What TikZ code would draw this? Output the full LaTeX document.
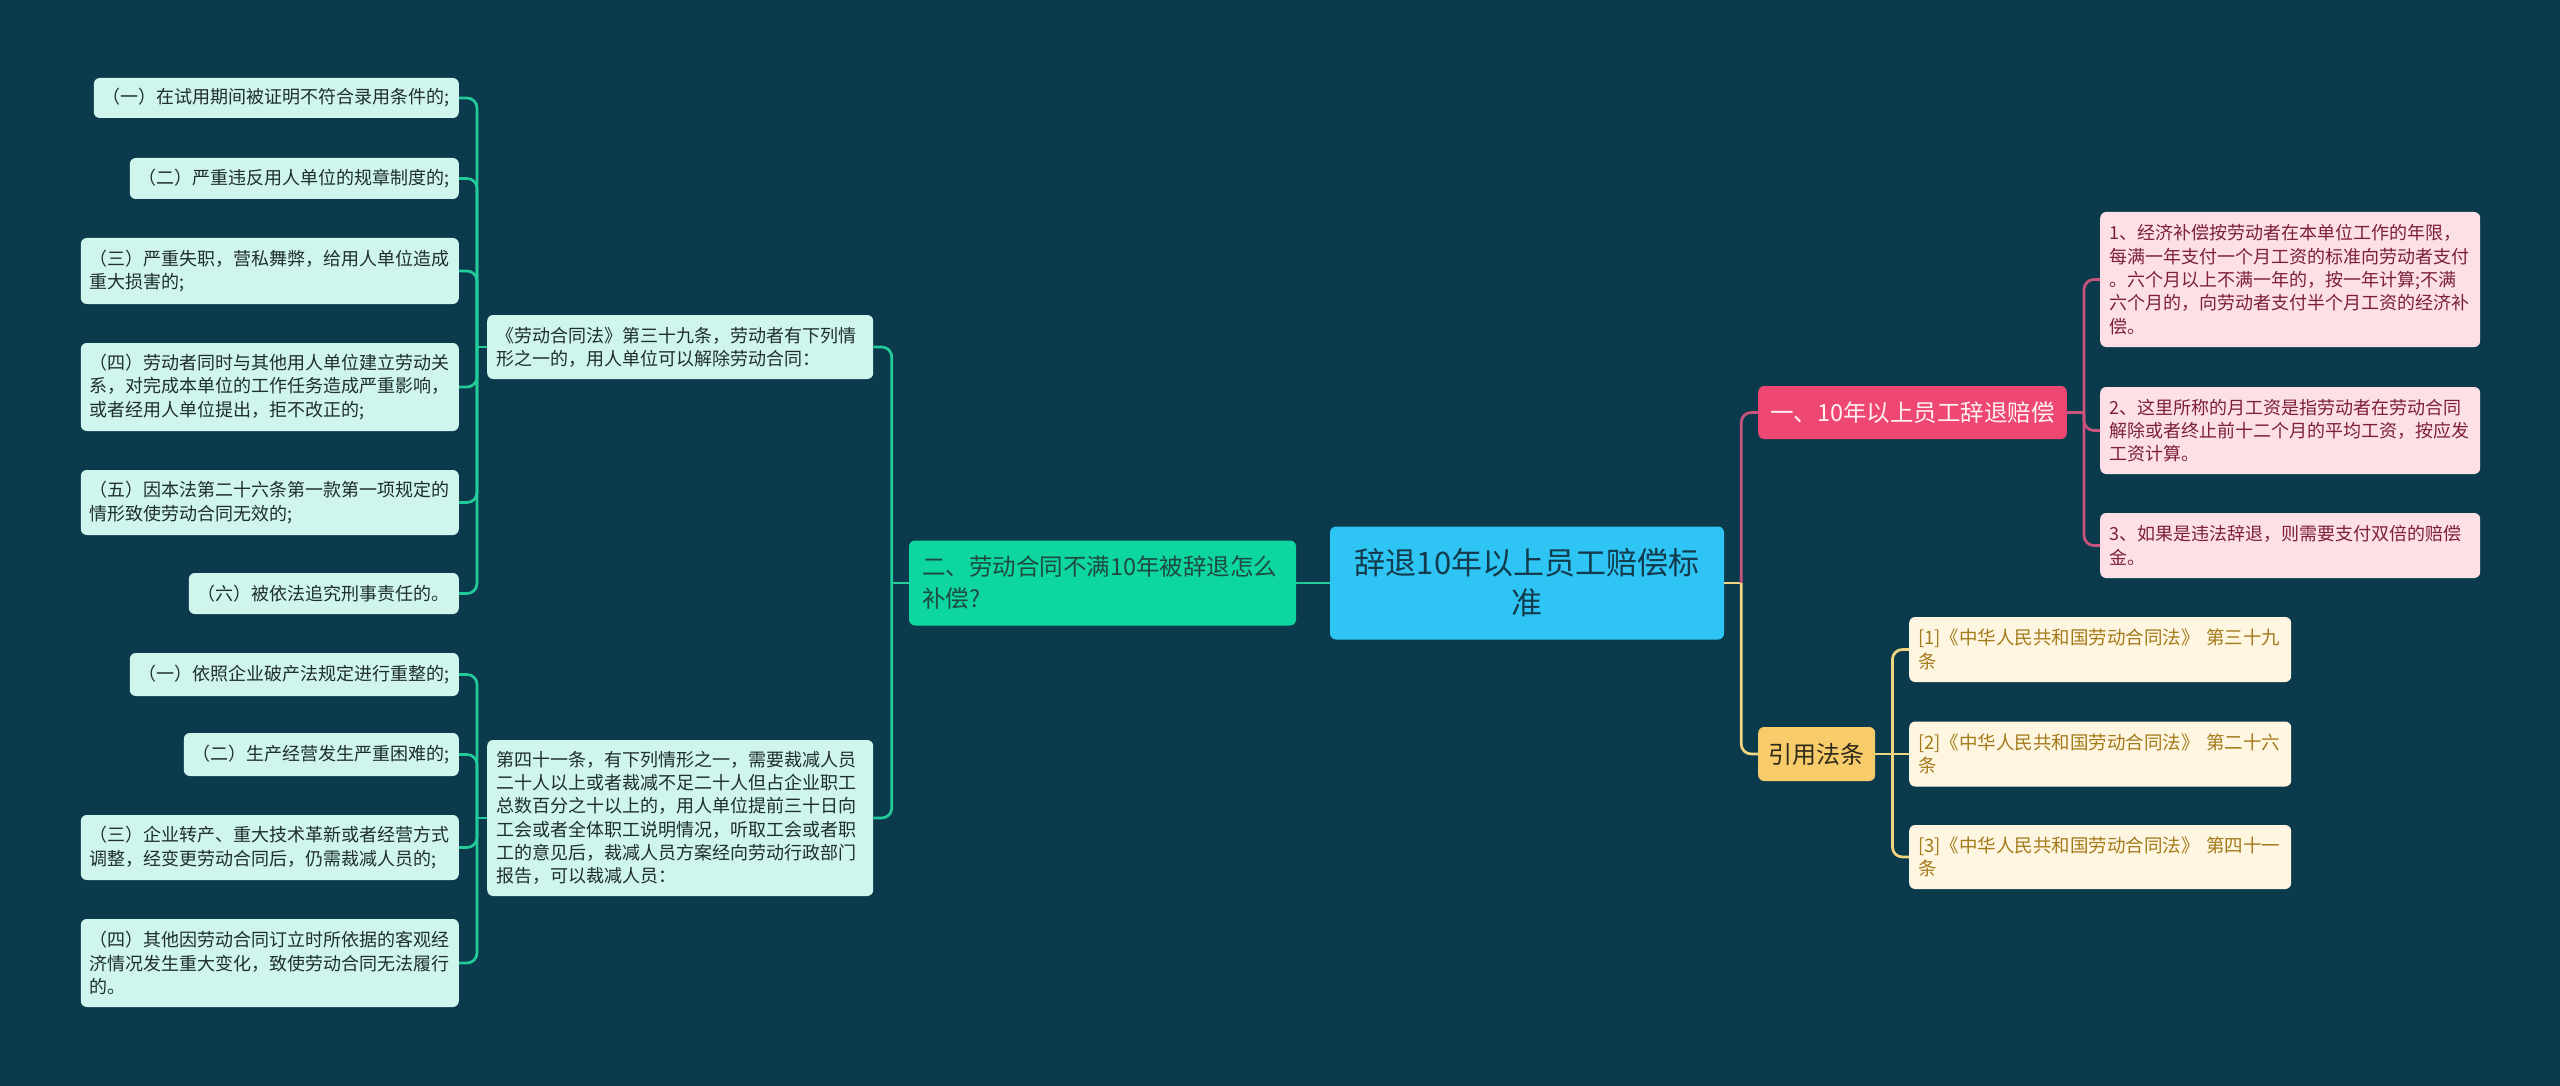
\documentclass[tikz,border=0pt]{standalone}
\usepackage{fontspec}
\setmainfont{Noto Sans CJK SC}
\usetikzlibrary{positioning}

\definecolor{bgcol}{HTML}{0A3A4C}
\definecolor{rootcol}{HTML}{2EC5F4}
\definecolor{roottxt}{HTML}{123B4D}
\definecolor{greencol}{HTML}{0DD6A0}
\definecolor{greentxt}{HTML}{1E4A40}
\definecolor{mintcol}{HTML}{CFF5EC}
\definecolor{minttxt}{HTML}{1F2E2E}
\definecolor{glinecol}{HTML}{22CC98}
\definecolor{pinkcol}{HTML}{EE4771}
\definecolor{pinktxt}{HTML}{FFF0F3}
\definecolor{rosecol}{HTML}{FDE0E6}
\definecolor{rosetxt}{HTML}{7C2038}
\definecolor{plinecol}{HTML}{C9557C}
\definecolor{goldcol}{HTML}{F8CC6B}
\definecolor{goldtxt}{HTML}{2E2A1A}
\definecolor{creamcol}{HTML}{FFF6E1}
\definecolor{creamtxt}{HTML}{A37A1A}
\definecolor{ylinecol}{HTML}{F0D580}

\begin{document}
\begin{tikzpicture}[x=1pt, y=-1pt,
  card/.style={rounded corners=6pt, inner xsep=9pt, inner ysep=6pt, align=left},
  mintbox/.style={card, fill=mintcol, text=minttxt, font=\fontsize{18pt}{23.3pt}\selectfont},
  lawbox/.style={mintbox, text width=368pt},
  topicbox/.style={card, fill=greencol, text=greentxt, inner xsep=13pt, text width=361pt, font=\fontsize{23.5pt}{32pt}\selectfont},
  rootbox/.style={card, fill=rootcol, text=roottxt, inner xsep=12pt, text width=370pt, align=center, font=\fontsize{31pt}{40pt}\selectfont},
  pinkbox/.style={card, fill=pinkcol, text=pinktxt, inner xsep=12pt, font=\fontsize{23.5pt}{30pt}\selectfont},
  rosebox/.style={card, fill=rosecol, text=rosetxt, text width=362pt, font=\fontsize{18pt}{23.3pt}\selectfont},
  goldbox/.style={card, fill=goldcol, text=goldtxt, inner xsep=10.5pt, font=\fontsize{24pt}{30pt}\selectfont},
  creambox/.style={card, fill=creamcol, text=creamtxt, text width=364pt, font=\fontsize{18.5pt}{23.3pt}\selectfont},
  gline/.style={draw=glinecol, line width=2.7pt, rounded corners=10pt},
  pline/.style={draw=plinecol, line width=2.7pt, rounded corners=10pt},
  yline/.style={draw=ylinecol, line width=2.7pt, rounded corners=10pt}
]
\fill[bgcol] (0,0) rectangle (2560,1086);
\useasboundingbox (0,0) rectangle (2560,1086);

% centre and main branches
\node[rootbox, minimum height=113pt] (root) at (1527,583) {辞退10年以上员工赔偿标\\准};
\node[topicbox, minimum height=85pt] (sec2) at (1102.5,583) {二、劳动合同不满10年被辞退怎么\\补偿?};
\node[pinkbox, anchor=west, minimum height=53pt] (sec1) at (1758,412.5) {一、10年以上员工辞退赔偿};
\node[goldbox, anchor=west, minimum height=54pt] (cite) at (1758,754) {引用法条};

% left side
\node[lawbox, anchor=west, minimum height=64pt] (lawA) at (487,347) {《劳动合同法》第三十九条，劳动者有下列情\\形之一的，用人单位可以解除劳动合同：};
\node[lawbox, anchor=west, minimum height=156pt] (lawB) at (487,818) {第四十一条，有下列情形之一，需要裁减人员\\二十人以上或者裁减不足二十人但占企业职工\\总数百分之十以上的，用人单位提前三十日向\\工会或者全体职工说明情况，听取工会或者职\\工的意见后，裁减人员方案经向劳动行政部门\\报告，可以裁减人员：};

\node[mintbox, anchor=east, minimum height=40pt] (a1) at (459,98) {（一）在试用期间被证明不符合录用条件的;};
\node[mintbox, anchor=east, minimum height=41pt] (a2) at (459,178.5) {（二）严重违反用人单位的规章制度的;};
\node[mintbox, anchor=east, minimum height=66pt] (a3) at (459,271) {（三）严重失职，营私舞弊，给用人单位造成\\重大损害的;};
\node[mintbox, anchor=east, minimum height=88pt] (a4) at (459,387) {（四）劳动者同时与其他用人单位建立劳动关\\系，对完成本单位的工作任务造成严重影响，\\或者经用人单位提出，拒不改正的;};
\node[mintbox, anchor=east, minimum height=65pt] (a5) at (459,502.5) {（五）因本法第二十六条第一款第一项规定的\\情形致使劳动合同无效的;};
\node[mintbox, anchor=east, minimum height=41pt] (a6) at (459,593.5) {（六）被依法追究刑事责任的。};

\node[mintbox, anchor=east, minimum height=43pt] (b1) at (459,674.5) {（一）依照企业破产法规定进行重整的;};
\node[mintbox, anchor=east, minimum height=43pt] (b2) at (459,754.5) {（二）生产经营发生严重困难的;};
\node[mintbox, anchor=east, minimum height=65pt] (b3) at (459,847.5) {（三）企业转产、重大技术革新或者经营方式\\调整，经变更劳动合同后，仍需裁减人员的;};
\node[mintbox, anchor=east, minimum height=88pt] (b4) at (459,963) {（四）其他因劳动合同订立时所依据的客观经\\济情况发生重大变化，致使劳动合同无法履行\\的。};

% right side
\node[rosebox, anchor=west, minimum height=135pt] (p1) at (2100,279.5) {1、经济补偿按劳动者在本单位工作的年限，\\每满一年支付一个月工资的标准向劳动者支付\\。六个月以上不满一年的，按一年计算;不满\\六个月的，向劳动者支付半个月工资的经济补\\偿。};
\node[rosebox, anchor=west, minimum height=87pt] (p2) at (2100,430.5) {2、这里所称的月工资是指劳动者在劳动合同\\解除或者终止前十二个月的平均工资，按应发\\工资计算。};
\node[rosebox, anchor=west, minimum height=65pt] (p3) at (2100,545.5) {3、如果是违法辞退，则需要支付双倍的赔偿\\金。};

\node[creambox, anchor=west, minimum height=65pt] (r1) at (1909,649.5) {[1]《中华人民共和国劳动合同法》~第三十九\\条};
\node[creambox, anchor=west, minimum height=65pt] (r2) at (1909,754) {[2]《中华人民共和国劳动合同法》~第二十六\\条};
\node[creambox, anchor=west, minimum height=64pt] (r3) at (1909,857) {[3]《中华人民共和国劳动合同法》~第四十一\\条};

% junctions
\coordinate[left=17pt of sec2] (jL);
\coordinate[left=10pt of lawA] (jA);
\coordinate[left=10pt of lawB] (jB);
\coordinate[right=17pt of root] (jR);
\coordinate[right=17pt of sec1] (jP);
\coordinate[right=17pt of cite] (jY);

% connectors
\draw[gline] (root.west) -- (sec2.east);
\draw[gline] (sec2.west) -- (jL);
\draw[gline] (jL) |- (lawA.east);
\draw[gline] (jL) |- (lawB.east);
\draw[gline] (lawA.west) -- (jA);
\draw[gline] (jA) |- (a1.east);
\draw[gline] (jA) |- (a2.east);
\draw[gline] (jA) |- (a3.east);
\draw[gline] (jA) |- (a4.east);
\draw[gline] (jA) |- (a5.east);
\draw[gline] (jA) |- (a6.east);
\draw[gline] (lawB.west) -- (jB);
\draw[gline] (jB) |- (b1.east);
\draw[gline] (jB) |- (b2.east);
\draw[gline] (jB) |- (b3.east);
\draw[gline] (jB) |- (b4.east);

\draw[yline] (root.east) -- (jR);
\draw[pline] (jR) |- (sec1.west);
\draw[yline] (jR) |- (cite.west);
\draw[pline] (sec1.east) -- (jP);
\draw[pline] (jP) |- (p1.west);
\draw[pline] (jP) |- (p2.west);
\draw[pline] (jP) |- (p3.west);
\draw[yline] (cite.east) -- (jY);
\draw[yline] (jY) |- (r1.west);
\draw[yline] (jY) -- (r2.west);
\draw[yline] (jY) |- (r3.west);
\end{tikzpicture}
\end{document}
